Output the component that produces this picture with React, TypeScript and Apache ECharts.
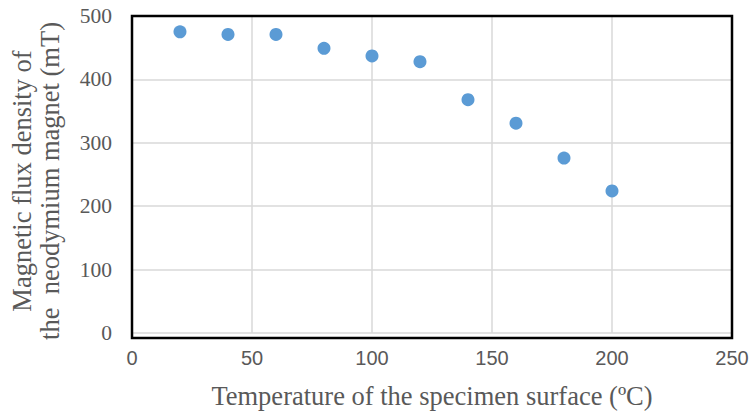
import React, { useEffect, useRef } from "react";
import * as echarts from "echarts";

const temperatures = [20, 40, 60, 80, 100, 120, 140, 160, 180, 200];
const fluxDensity = [475, 471, 471, 449, 437, 428, 368, 331, 276, 224];
const xTitle = "Temperature of the specimen surface (ºC)";
const yTitleLines = ["Magnetic flux density of", "the  neodymium magnet (mT)"];

export default function App() {
  const ref = useRef<HTMLDivElement>(null);
  useEffect(() => {
    document.body.style.margin = "0";
    document.body.style.overflow = "hidden";
    const chart = echarts.init(ref.current!, null, { renderer: "svg" });
    const data = temperatures.map((t, i) => [t, fluxDensity[i]]);
    chart.setOption({
      animation: false,
      backgroundColor: "#ffffff",
      grid: { left: 132, top: 16, width: 600, height: 322 },
      xAxis: {
        type: "value",
        min: 0,
        max: 250,
        interval: 50,
        axisLine: { show: false },
        axisTick: { show: false },
        splitLine: { show: true, lineStyle: { color: "#d9d9d9", width: 1.5 } },
        axisLabel: { color: "#595959", fontFamily: "Liberation Sans", fontSize: 20, margin: 15 },
        name: xTitle,
        nameLocation: "middle",
        nameGap: 49,
        nameTextStyle: { color: "#595959", fontFamily: "Liberation Serif", fontSize: 26.5 },
      },
      yAxis: {
        type: "value",
        min: 0,
        max: 500,
        interval: 100,
        axisLine: { show: false },
        axisTick: { show: false },
        splitLine: { show: true, lineStyle: { color: "#d9d9d9", width: 1.5 } },
        axisLabel: { color: "#595959", fontFamily: "Liberation Serif", fontSize: 21.5, margin: 20 },
      },
      graphic: [
        {
          type: "rect",
          shape: { x: 132, y: 16, width: 600, height: 322 },
          style: { fill: "none", stroke: "#000", lineWidth: 2.5 },
          z: 10,
        },
        {
          type: "text",
          x: 36,
          y: 181,
          rotation: Math.PI / 2,
          style: {
            text: yTitleLines.join("\n"),
            fill: "#595959",
            font: "26.5px 'Liberation Serif'",
            textAlign: "center",
            textVerticalAlign: "middle",
            lineHeight: 28,
          },
        },
      ],
      series: [
        {
          type: "scatter",
          data,
          symbol: "circle",
          symbolSize: 13,
          z: 20,
          itemStyle: { color: "#5b9bd5", opacity: 1 },
        },
      ],
    });
    return () => chart.dispose();
  }, []);
  return <div ref={ref} style={{ width: 753, height: 414 }} />;
}
